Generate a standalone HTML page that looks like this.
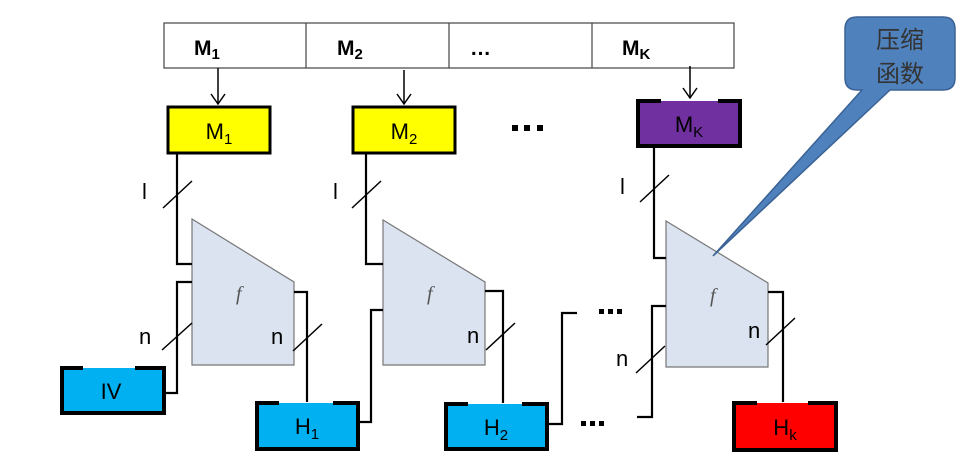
<!DOCTYPE html>
<html><head><meta charset="utf-8"><style>
html,body{margin:0;padding:0;background:#fff;}
svg{display:block;}
text{font-family:"Liberation Sans","Noto Sans CJK SC",sans-serif;}
</style></head><body>
<svg width="970" height="464" viewBox="0 0 970 464" xmlns="http://www.w3.org/2000/svg">
<!-- top table -->
<rect x="164" y="23" width="570" height="45" fill="#fff" stroke="#444" stroke-width="1.2"/>
<line x1="306" y1="23" x2="306" y2="68" stroke="#444" stroke-width="1.2"/>
<line x1="449" y1="23" x2="449" y2="68" stroke="#444" stroke-width="1.2"/>
<line x1="592" y1="23" x2="592" y2="68" stroke="#444" stroke-width="1.2"/>
<g font-weight="bold" font-size="21">
<text x="194" y="55">M<tspan font-size="15" dy="4">1</tspan></text>
<text x="337" y="55">M<tspan font-size="15" dy="4">2</tspan></text>
<text x="470" y="55">…</text>
<text x="622" y="55">M<tspan font-size="15" dy="4">K</tspan></text>
</g>
<!-- arrows -->
<g stroke="#000" stroke-width="1.5" fill="none">
<line x1="218" y1="68" x2="218" y2="104"/>
<path d="M211,94 L218,104 L225,94"/>
<line x1="404" y1="70" x2="404" y2="104"/>
<path d="M397,94 L404,104 L411,94"/>
<line x1="690" y1="66" x2="690" y2="98"/>
<path d="M683,88 L690,98 L697,88"/>
</g>
<!-- trapezoids -->
<g fill="#dbe2f0" stroke="#777" stroke-width="1.2">
<polygon points="192,219 294,282 294,365 192,365"/>
<polygon points="383,220 485,282 485,365 383,365"/>
<polygon points="666,221 768,283 768,367 666,367"/>
</g>
<g font-style="italic" font-size="20" fill="#555">
<text x="236" y="300" style="font-family:'Liberation Serif',serif">f</text>
<text x="427" y="300" style="font-family:'Liberation Serif',serif">f</text>
<text x="710" y="302" style="font-family:'Liberation Serif',serif">f</text>
</g>
<!-- wires -->
<g stroke="#000" stroke-width="2.2" fill="none">
<polyline points="177,154 177,264 192,264"/>
<polyline points="192,282 177,282 177,393 165,393"/>
<polyline points="294,292 307,292 307,402"/>
<polyline points="359,422 371,422 371,310 383,310"/>
<polyline points="366,154 366,264 383,264"/>
<polyline points="485,291 503,291 503,403"/>
<polyline points="548,424 562,424 562,313 577,313"/>
<polyline points="654,147 654,258 666,258"/>
<polyline points="768,292 783,292 783,402"/>
<polyline points="666,306 652,306 652,417 637,417"/>
</g>
<!-- slashes -->
<g stroke="#000" stroke-width="1.5">
<line x1="163" y1="208" x2="192" y2="181"/>
<line x1="352" y1="208" x2="381" y2="181"/>
<line x1="640" y1="202" x2="669" y2="175"/>
<line x1="162" y1="350" x2="192" y2="323"/>
<line x1="293" y1="351" x2="322" y2="324"/>
<line x1="486" y1="350" x2="515" y2="323"/>
<line x1="636" y1="373" x2="665" y2="346"/>
<line x1="766" y1="345" x2="795" y2="318"/>
</g>
<g font-size="22" fill="#000">
<text x="142" y="199">l</text>
<text x="333" y="199">l</text>
<text x="620" y="194">l</text>
<text x="139" y="344">n</text>
<text x="271" y="344">n</text>
<text x="467" y="343">n</text>
<text x="616" y="366">n</text>
<text x="748" y="338">n</text>
</g>
<!-- dots -->
<g fill="#000">
<rect x="512" y="125" width="6" height="6"/><rect x="524" y="125" width="6" height="6"/><rect x="537" y="125" width="6" height="6"/>
<rect x="599" y="309" width="5" height="5"/><rect x="608" y="309" width="5" height="5"/><rect x="617" y="309" width="5" height="5"/>
<rect x="581" y="421" width="5" height="5"/><rect x="590" y="421" width="5" height="5"/><rect x="599" y="421" width="5" height="5"/>
</g>
<!-- yellow boxes -->
<rect x="168" y="107" width="102" height="46" fill="#ffff00" stroke="#000" stroke-width="3"/>
<rect x="353" y="107" width="102" height="46" fill="#ffff00" stroke="#000" stroke-width="3"/>
<!-- gap-top boxes -->
<g stroke="#000" stroke-width="4" fill="none">
<rect x="638" y="101" width="102" height="45" fill="#7030a0" stroke="none"/>
<polyline points="661,101 638,101 638,146 740,146 740,101 718,101"/>
<rect x="62" y="368" width="102" height="45" fill="#00b0f0" stroke="none"/>
<polyline points="83,368 62,368 62,413 164,413 164,368 135,368"/>
<rect x="257" y="403" width="101" height="46" fill="#00b0f0" stroke="none"/>
<polyline points="279,403 257,403 257,449 358,449 358,403 333,403"/>
<rect x="446" y="404" width="101" height="45" fill="#00b0f0" stroke="none"/>
<polyline points="468,404 446,404 446,449 547,449 547,404 522,404"/>
<rect x="734" y="403" width="102" height="47" fill="#ff0000" stroke="none"/>
<polyline points="757,403 734,403 734,450 836,450 836,403 808,403"/>
</g>
<g font-size="22" fill="#000" text-anchor="middle">
<text x="219" y="139">M<tspan font-size="15" dy="5">1</tspan></text>
<text x="404" y="139">M<tspan font-size="15" dy="5">2</tspan></text>
<text x="689" y="132">M<tspan font-size="15" dy="5">K</tspan></text>
<text x="111" y="399">IV</text>
<text x="307" y="434">H<tspan font-size="15" dy="5">1</tspan></text>
<text x="496" y="435">H<tspan font-size="15" dy="5">2</tspan></text>
<text x="785" y="435">H<tspan font-size="15" dy="5">k</tspan></text>
</g>
<!-- callout -->
<path d="M857,17 H943 Q955,17 955,29 V78 Q955,90 943,90 H890 L713,256 L862,90 H857 Q845,90 845,78 V29 Q845,17 857,17 Z" fill="#4f81bd" stroke="#3a6294" stroke-width="1.5"/>
<g font-size="24" fill="#333" text-anchor="middle">
<text x="900" y="48">压缩</text>
<text x="900" y="82">函数</text>
</g>
</svg>
</body></html>
